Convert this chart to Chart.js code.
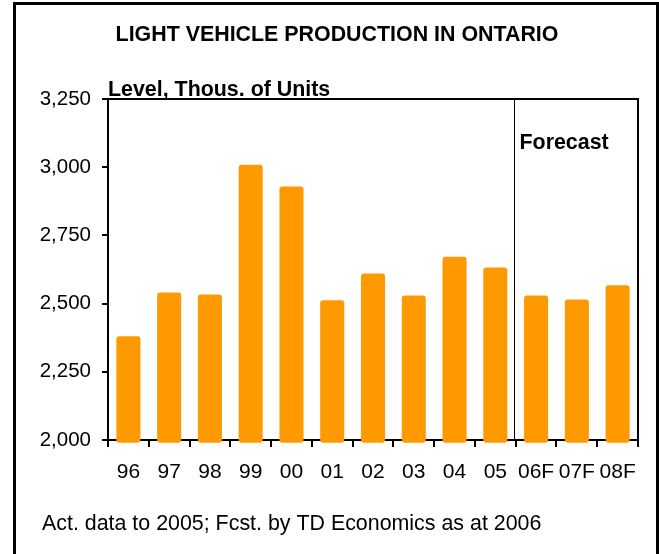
<!DOCTYPE html>
<html>
<head>
<meta charset="utf-8">
<script src="https://cdn.jsdelivr.net/npm/chart.js@4"></script>
<style>
  body { margin: 0; background: #fff; }
</style>
</head>
<body>
<canvas id="myChart" width="659" height="554"></canvas>
<script>
const years = ['96', '97', '98', '99', '00', '01', '02', '03', '04', '05', '06F', '07F', '08F'];
const production = [2380, 2541, 2533, 3009, 2929, 2512, 2610, 2530, 2672, 2632, 2530, 2515, 2567];
const yTicks = [2000, 2250, 2500, 2750, 3000, 3250];
const firstForecast = '06F';

const titleText = 'LIGHT VEHICLE PRODUCTION IN ONTARIO';
const unitText = 'Level, Thous. of Units';
const footText = 'Act. data to 2005; Fcst. by TD Economics as at 2006';

const font = 'Arial, "Liberation Sans", sans-serif';

// frame, title, notes and forecast divider
const extras = {
    id: 'extras',
    afterDraw(chart) {
        const c = chart.ctx;
        const a = chart.chartArea;
        const x = chart.scales.x;
        c.save();
        c.strokeStyle = '#000';

        c.lineWidth = 3;
        c.strokeRect(14.5, 3.5, 643, 600);

        c.lineWidth = 2;
        c.beginPath();
        c.moveTo(a.left, a.top);
        c.lineTo(a.right, a.top);
        c.lineTo(a.right, a.bottom);
        c.stroke();

        const i = years.indexOf(firstForecast);
        const fx = Math.round((x.getPixelForValue(i - 1) + x.getPixelForValue(i)) / 2) - 1.5;
        c.lineWidth = 1;
        c.beginPath();
        c.moveTo(fx, a.top);
        c.lineTo(fx, a.bottom);
        c.stroke();

        c.fillStyle = '#000';
        c.textBaseline = 'alphabetic';
        c.font = 'bold 21.4px ' + font;
        c.textAlign = 'center';
        c.fillText(titleText, 337, 41);
        c.textAlign = 'left';
        c.fillText(unitText, a.left, 96);
        c.fillText('Forecast', fx + 5, 149);
        c.font = '21.4px ' + font;
        c.fillText(footText, 42, 530);
        c.restore();
    }
};

const ctx = document.getElementById('myChart');

new Chart(ctx, {
    type: 'bar',
    data: {
        labels: years,
        datasets: [{
            data: production,
            backgroundColor: '#FF9900',
            borderWidth: 0,
            borderRadius: 3,
            borderSkipped: false,
            base: 1990,
            clip: false,
            barPercentage: 0.59,
            categoryPercentage: 1,
        }],
    },
    plugins: [extras],
    options: {
        responsive: false,
        animation: false,
        layout: {
            padding: { left: 20, top: 99, right: 21, bottom: 60 }
        },
        plugins: {
            legend: { display: false },
            tooltip: { enabled: false },
        },
        scales: {
            x: {
                z: 1,
                afterFit(s) { s.height = 54; },
                border: { display: true, color: '#000', width: 2 },
                grid: {
                    offset: true,
                    drawOnChartArea: false,
                    drawTicks: true,
                    tickLength: 7,
                    color: '#000',
                    lineWidth: 2,
                },
                ticks: {
                    color: '#000',
                    padding: 13,
                    font: { family: font, size: 21 },
                    maxRotation: 0,
                    autoSkip: false,
                },
            },
            y: {
                z: 1,
                min: yTicks[0],
                max: yTicks[yTicks.length - 1],
                afterFit(s) { s.width = 88; },
                afterBuildTicks(s) { s.ticks = yTicks.map(v => ({ value: v })); },
                border: { display: true, color: '#000', width: 2 },
                grid: {
                    drawOnChartArea: false,
                    drawTicks: true,
                    tickLength: 6,
                    color: '#000',
                    lineWidth: 2,
                },
                ticks: {
                    color: '#000',
                    padding: 11,
                    font: { family: font, size: 20.5 },
                    callback: v => v.toLocaleString('en-US'),
                },
            },
        },
    },
});
</script>
</body>
</html>
